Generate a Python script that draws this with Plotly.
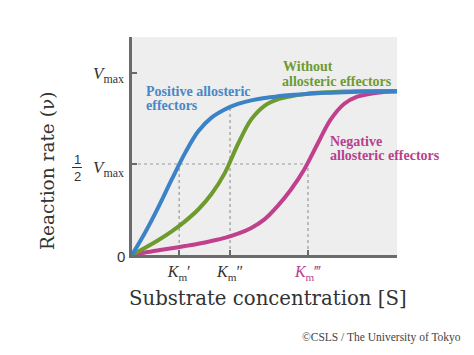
import plotly.graph_objects as go

# ---- data (x: substrate concentration, arbitrary units; y: v / Vmax) ----
conc = [0, 0.5, 1.0, 1.5, 2.0, 2.5, 3.0, 3.5, 4.0, 4.5, 5.0, 5.5, 6.0, 6.5, 7.0, 7.5, 8.0, 8.5, 9.0, 9.5, 10.0]
rate_positive = [0, 0.125, 0.265, 0.415, 0.56, 0.68, 0.755, 0.80, 0.83, 0.85, 0.863, 0.872, 0.879,
                 0.884, 0.889, 0.892, 0.895, 0.897, 0.899, 0.90, 0.90]
rate_without = [0, 0.04, 0.0825, 0.13, 0.185, 0.25, 0.335, 0.45, 0.61, 0.745, 0.82, 0.855, 0.8725,
                0.884, 0.891, 0.895, 0.898, 0.90, 0.90, 0.90, 0.90]
rate_negative = [0, 0.014, 0.026, 0.037, 0.049, 0.062, 0.077, 0.094, 0.117, 0.149, 0.196, 0.27, 0.36,
                 0.47, 0.61, 0.745, 0.83, 0.87, 0.886, 0.896, 0.90]

km_vals = [1.78, 3.70, 6.64]           # Km', Km'', Km'''
km_tops = [0.5, 0.81, 0.5]              # where the dashed guides end
half = 0.5
vmax = 1.0
km_labels = ["<i>K</i><sub>m</sub>\u2032", "<i>K</i><sub>m</sub>\u2033",
             "<span style='color:#b8418d'><i>K</i><sub>m</sub>\u2034</span>"]

BLUE = "#3c82c6"
GREEN = "#6d9b2d"
MAG = "#c1408e"
AXC = "#6b6b6b"
GUIDE = "#9a9a9a"

OFF = 8                       # page body margin in the browser
W, H = 474 - OFF, 355 - OFF   # figure size
L, R, T, B = 132, 397, 37, 255  # plot-area edges in screen pixels


def px(x):
    return (x - L) / (R - L)


def py(y):
    return (B - y) / (B - T)


fig = go.Figure()

# dashed guide lines
fig.add_trace(go.Scatter(x=[0, km_vals[2]], y=[half, half], mode="lines",
                         line=dict(color=GUIDE, width=1.2, dash="3px,3px"), hoverinfo="skip"))
for kx, ky in zip(km_vals, km_tops):
    fig.add_trace(go.Scatter(x=[kx, kx], y=[0, ky], mode="lines",
                             line=dict(color=GUIDE, width=1.2, dash="3px,3px"), hoverinfo="skip"))

for ys, c in [(rate_negative, MAG), (rate_without, GREEN), (rate_positive, BLUE)]:
    fig.add_trace(go.Scatter(x=conc, y=ys, mode="lines",
                             line=dict(color=c, width=4, shape="spline", smoothing=1.0)))

ann = []
lab_font = "Liberation Serif"


def txt(text, x, y, size, color, xanchor="left", font=lab_font, bold=False):
    ann.append(dict(text=(f"<b>{text}</b>" if bold else text), x=px(x), y=py(y),
                    xref="paper", yref="paper", xanchor=xanchor, yanchor="middle",
                    showarrow=False, font=dict(family=font, size=size, color=color)))


# curve labels
txt("Positive allosteric", 144, 91, 14, "#4a87c7", bold=True)
txt("effectors", 144, 105, 14, "#4a87c7", bold=True)
txt("Without", 281, 67, 14, "#6e9a34", bold=True)
txt("allosteric effectors", 280, 81, 14, "#6e9a34", bold=True)
txt("Negative", 328, 141, 14, "#b8418d", bold=True)
txt("allosteric effectors", 328, 155, 14, "#b8418d", bold=True)

# y tick labels
txt("<i>V</i><sub>max</sub>", 126, 75, 17, "#333333", xanchor="right")
txt("<i>V</i><sub>max</sub>", 126, 169, 17, "#333333", xanchor="right")
txt("1", 77, 159, 13, "#333333", xanchor="center", font="Liberation Sans")
txt("2", 77, 176, 13, "#333333", xanchor="center", font="Liberation Sans")
txt("0", 127, 256, 15, "#333333", xanchor="right", font="Liberation Sans")

# axis titles
ann.append(dict(text="Reaction rate (\u03bd)", x=px(47), y=py(171), xref="paper", yref="paper",
                textangle=-90, showarrow=False, xanchor="center", yanchor="middle",
                font=dict(family="DejaVu Serif", size=18.5, color="#333333")))
ann.append(dict(text="Substrate concentration [S]", x=px(268), y=py(298), xref="paper", yref="paper",
                showarrow=False, xanchor="center", yanchor="middle",
                font=dict(family="DejaVu Serif", size=19.7, color="#333333")))
# credit
txt("\u00a9CSLS / The University of Tokyo", 463, 337, 11.5, "#444444", xanchor="right")

fig.update_layout(
    width=W, height=H,
    margin=dict(l=L - OFF, r=W - (R - OFF), t=T - OFF, b=H - (B - OFF), pad=0),
    paper_bgcolor="white", plot_bgcolor="#eeeeee",
    showlegend=False,
    annotations=ann,
    shapes=[dict(type="line", xref="paper", yref="paper",
                 x0=px(72), x1=px(82), y0=py(167.5), y1=py(167.5),
                 line=dict(color="#333333", width=1))],
)
fig.update_xaxes(range=[0, 10], showgrid=False, zeroline=False, showline=True,
                 linecolor=AXC, linewidth=3, ticks="inside", ticklen=5, tickwidth=1.5,
                 tickcolor=AXC, tickvals=km_vals, ticktext=km_labels,
                 tickfont=dict(family="Liberation Serif", size=16, color="#333333"),
                 ticklabelstandoff=0)
fig.update_yaxes(range=[0, 1.198], showgrid=False, zeroline=False, showline=True,
                 linecolor=AXC, linewidth=3, ticks="inside", ticklen=5, tickwidth=1.5,
                 tickcolor=AXC, tickvals=[half, vmax], showticklabels=False)

fig.write_html("out.html")
